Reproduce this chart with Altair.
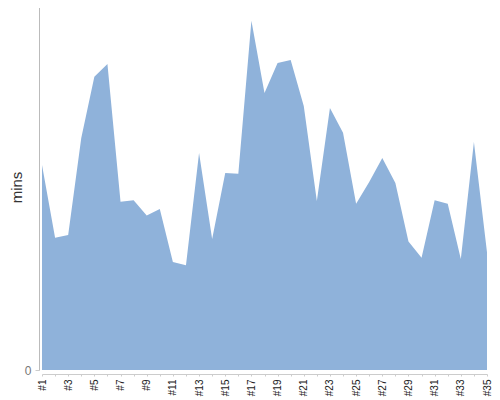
import altair as alt
import pandas as pd

labels = [f"#{i}" for i in range(1, 36)]
mins = [56.0, 36.1, 36.9, 63.4, 80.1, 83.6, 46.0, 46.4, 42.2, 44.0,
        29.5, 28.6, 59.3, 35.8, 53.8, 53.6, 95.4, 75.7, 83.9, 84.7,
        72.1, 46.2, 71.6, 64.8, 45.4, 51.4, 57.9, 51.1, 35.1, 30.7,
        46.4, 45.4, 30.3, 62.3, 32.2]

df = pd.DataFrame({"run": labels, "mins": mins})

FONT = "Liberation Sans"

chart = alt.Chart(df).mark_area(color="#8fb2da", opacity=1).encode(
    x=alt.X("run:N", sort=labels,
            scale=alt.Scale(type="point", padding=0),
            axis=alt.Axis(title=None, labelAngle=-90, labelFontSize=10,
                          labelColor="#222", labelFont=FONT, labelPadding=3,
                          labelOverlap=False,
                          labelExpr="parseInt(substring(datum.label,1)) % 2 == 1 ? datum.label : ''",
                          domainColor="#cccccc", tickColor="#cccccc",
                          tickSize=2, offset=4)),
    y=alt.Y("mins:Q",
            scale=alt.Scale(domain=[0, 100], range=[362, -4], nice=False, zero=True),
            axis=alt.Axis(title="mins", values=[0], grid=False,
                          titleFont=FONT, titleFontSize=15, titleFontWeight="normal",
                          titleColor="#333", titlePadding=0,
                          labelFont=FONT, labelFontSize=12, labelColor="#777",
                          labelPadding=4, tickSize=4, tickColor="#cccccc",
                          domainColor="#bbbbbb", offset=3)),
).properties(
    width=445, height=362,
    autosize=alt.AutoSizeParams(type="none"),
    padding={"left": 34, "top": 0, "right": 5, "bottom": 30},
).configure_view(stroke=None)

chart.save("out.html", embed_options={"renderer": "svg", "actions": False})
